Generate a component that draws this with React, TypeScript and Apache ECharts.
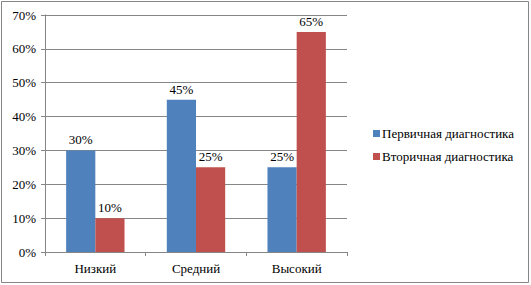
import React, { useEffect, useRef } from "react";
import * as echarts from "echarts";

const categories = ["Низкий", "Средний", "Высокий"];
const primary = [30, 45, 25];
const secondary = [10, 25, 65];
const seriesNames = ["Первичная диагностика", "Вторичная диагностика"];

const FONT = "serif";

export default function App() {
  const ref = useRef<HTMLDivElement>(null);
  useEffect(() => {
    const chart = echarts.init(ref.current!, null, { renderer: "svg" });
    const label = {
      show: true,
      position: "top" as const,
      distance: 4,
      formatter: "{c}%",
      color: "#000",
      fontFamily: FONT,
      fontSize: 13,
    };
    chart.setOption({
      animation: false,
      backgroundColor: "#fff",
      textStyle: { fontFamily: FONT },
      graphic: [
        {
          type: "rect",
          shape: { x: 1.5, y: 1.5, width: 527, height: 281 },
          style: { fill: "none", stroke: "#868686", lineWidth: 1 },
          silent: true,
        },
      ],
      grid: { left: 45, right: 184, top: 15, bottom: 33, containLabel: false },
      legend: {
        orient: "vertical",
        left: 368,
        top: 122,
        itemWidth: 7,
        itemHeight: 7,
        itemGap: 10,
        icon: "rect",
        textStyle: { fontFamily: FONT, fontSize: 13, color: "#000", padding: [0, 0, 0, -3] },
        data: seriesNames,
      },
      xAxis: {
        type: "category",
        data: categories,
        axisLine: { lineStyle: { color: "#868686" } },
        axisTick: { show: true, length: 4, lineStyle: { color: "#868686" } },
        axisLabel: { color: "#000", fontFamily: FONT, fontSize: 13, margin: 10 },
      },
      yAxis: {
        type: "value",
        min: 0,
        max: 70,
        interval: 10,
        axisLine: { show: true, lineStyle: { color: "#868686" } },
        axisTick: { show: true, length: 4, lineStyle: { color: "#868686" } },
        axisLabel: { color: "#000", fontFamily: FONT, fontSize: 13, margin: 9, formatter: "{value}%" },
        splitLine: { lineStyle: { color: "#868686" } },
      },
      series: [
        {
          name: seriesNames[0],
          type: "bar",
          data: primary,
          barGap: "0%",
          barCategoryGap: "42%",
          itemStyle: { color: "#4F81BD" },
          label,
        },
        {
          name: seriesNames[1],
          type: "bar",
          data: secondary,
          barGap: "0%",
          barCategoryGap: "42%",
          itemStyle: { color: "#C0504D" },
          label,
        },
      ],
    });
    return () => chart.dispose();
  }, []);
  return (
    <div
      ref={ref}
      style={{ position: "fixed", left: 0, top: 0, width: 531, height: 285 }}
    />
  );
}
